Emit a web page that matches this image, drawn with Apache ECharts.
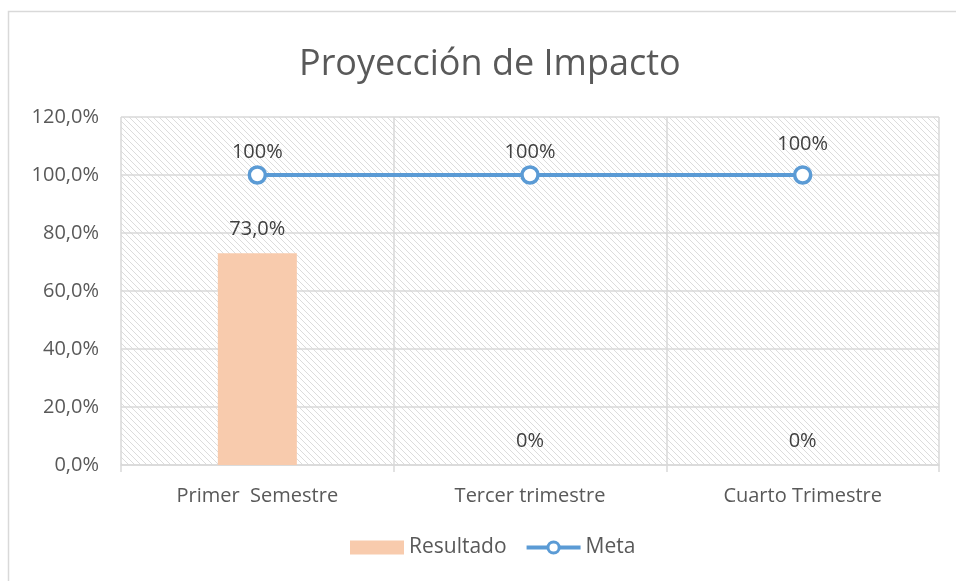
<!DOCTYPE html>
<html>
<head>
<meta charset="utf-8">
<script src="https://cdn.jsdelivr.net/npm/echarts@6/dist/echarts.min.js"></script>
<style>
  html, body { margin: 0; padding: 0; background: #fff; }
  #chart { width: 956px; height: 581px; }
</style>
</head>
<body>
<div id="chart"></div>
<script>
// datos del gráfico
var categorias = ['Primer  Semestre', 'Tercer trimestre', 'Cuarto Trimestre'];
var resultado = [73, 0, 0];
var meta = [100, 100, 100];
var ticksY = [0, 20, 40, 60, 80, 100, 120];

// trama diagonal del fondo
function trama() {
    var s = 6;
    var c = document.createElement('canvas');
    c.width = s;
    c.height = s;
    var ctx = c.getContext('2d');
    ctx.strokeStyle = '#dcdcdc';
    ctx.lineWidth = 1;
    ctx.beginPath();
    ctx.moveTo(-1, -1); ctx.lineTo(s + 1, s + 1);
    ctx.moveTo(-1, s - 1); ctx.lineTo(1, s + 1);
    ctx.moveTo(s - 1, -1); ctx.lineTo(s + 1, 1);
    ctx.stroke();
    return c;
}

var fuente = "'Open Sans', 'Noto Sans', sans-serif";
var myChart = echarts.init(document.getElementById('chart'));

// la última etiqueta de Meta queda un poco más arriba
var metaData = meta.map(function (v, i) {
    if (i === meta.length - 1) {
        return { value: v, label: { distance: 11 } };
    }
    return v;
});

var option = {
    animation: false,
    textStyle: { fontFamily: fuente },
    title: {
        text: 'Proyección de Impacto',
        left: 294,
        top: 42,
        textStyle: { fontSize: 36, fontWeight: 'normal', color: '#595959', fontFamily: fuente }
    },
    graphic: [{
        type: 'rect',
        shape: { x: 8.5, y: 11.5, width: 1000, height: 1000 },
        style: { fill: 'none', stroke: '#d9d9d9', lineWidth: 1.5 },
        silent: true
    }],
    legend: {
        bottom: 18,
        left: 345,
        itemGap: 18,
        itemWidth: 54,
        itemHeight: 14,
        textStyle: { fontSize: 21, color: '#595959' },
        data: [
            { name: 'Resultado', icon: 'rect' },
            { name: 'Meta', lineStyle: { width: 4 }, itemStyle: { borderWidth: 3 } }
        ]
    },
    grid: {
        left: 121,
        right: 17,
        top: 117,
        bottom: 116,
        show: true,
        borderWidth: 0,
        backgroundColor: { image: trama(), repeat: 'repeat' }
    },
    xAxis: {
        type: 'category',
        data: categorias,
        axisLine: { lineStyle: { color: '#d9d9d9', width: 1.5 } },
        axisTick: { show: true, length: 7, lineStyle: { color: '#d9d9d9', width: 1.5 } },
        axisLabel: { fontSize: 20, color: '#595959', margin: 21 },
        splitLine: { show: true, lineStyle: { color: '#d9d9d9', width: 1.5 } }
    },
    yAxis: {
        type: 'value',
        min: 0,
        max: ticksY[ticksY.length - 1],
        interval: 20,
        axisLine: { show: false },
        axisTick: { show: false },
        axisLabel: {
            fontSize: 20,
            color: '#595959',
            margin: 22,
            formatter: function (v) { return v + ',0%'; }
        },
        splitLine: { lineStyle: { color: '#d9d9d9', width: 1.5 } }
    },
    series: [
        {
            name: 'Resultado',
            type: 'bar',
            data: resultado,
            barWidth: 79,
            itemStyle: { color: '#F8CBAD' },
            label: {
                show: true,
                position: 'top',
                distance: 14,
                fontSize: 20,
                color: '#404040',
                formatter: function (p) {
                    return p.value === 0 ? '0%' : p.value.toFixed(1).replace('.', ',') + '%';
                }
            }
        },
        {
            name: 'Meta',
            type: 'line',
            data: metaData,
            symbol: 'circle',
            symbolSize: 16,
            itemStyle: { color: '#fff', borderColor: '#5B9BD5', borderWidth: 3.5 },
            lineStyle: { color: '#5B9BD5', width: 4 },
            label: {
                show: true,
                position: 'top',
                distance: 3,
                fontSize: 20,
                color: '#404040',
                formatter: function (p) { return p.value + '%'; }
            }
        }
    ]
};
myChart.setOption(option);
</script>
</body>
</html>
